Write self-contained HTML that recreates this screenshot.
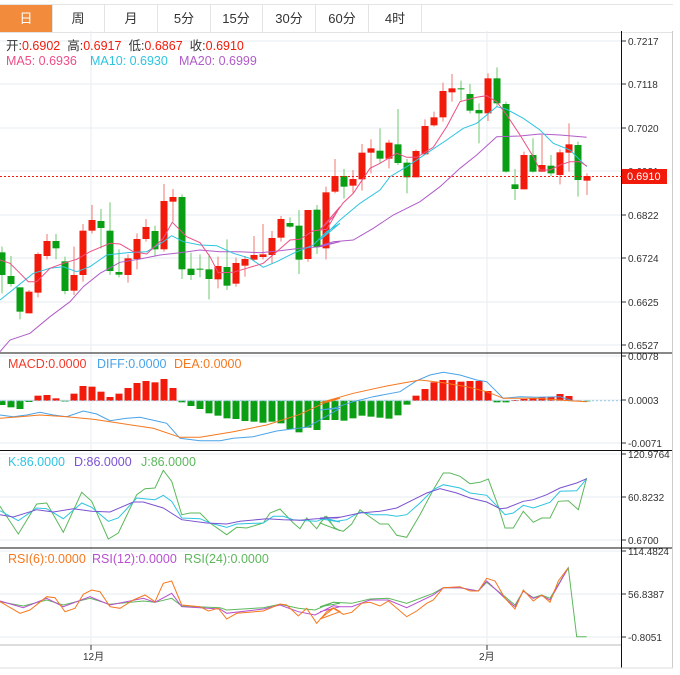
<!DOCTYPE html>
<html><head><meta charset="utf-8">
<style>
body{margin:0;background:#fff;width:680px;height:675px;overflow:hidden;font-family:"Liberation Sans","Noto Sans CJK SC",sans-serif;}
.tabs{position:absolute;left:0;top:4px;height:27px;width:673px;border-top:1px solid #e4e4e4;border-bottom:1px solid #e4e4e4;}
.tab{position:absolute;top:0;height:27px;line-height:27px;text-align:center;font-size:13px;color:#333;border-right:1px solid #e4e4e4;}
svg{position:absolute;left:0;top:0;}
</style></head><body>
<div class="tabs">
<div class="tab" style="left:0;width:52px;background:#f28c3c;color:#fff;">日</div>
<div class="tab" style="left:52px;width:52px;">周</div>
<div class="tab" style="left:105px;width:52px;">月</div>
<div class="tab" style="left:158px;width:52px;">5分</div>
<div class="tab" style="left:210px;width:52px;">15分</div>
<div class="tab" style="left:263px;width:52px;">30分</div>
<div class="tab" style="left:316px;width:52px;">60分</div>
<div class="tab" style="left:369px;width:52px;">4时</div>
</div>
<svg id="s" width="680" height="675" xmlns="http://www.w3.org/2000/svg" font-family="Liberation Sans, Noto Sans CJK SC, sans-serif"></svg>
<script>
var s=document.getElementById('s'),h='';
function L(x1,y1,x2,y2,c,w,d){h+='<line x1="'+x1+'" y1="'+y1+'" x2="'+x2+'" y2="'+y2+'" stroke="'+c+'" stroke-width="'+(w||1)+'"'+(d?' stroke-dasharray="'+d+'"':'')+'/>';}
function T(x,y,t,c,sz,a){h+='<text x="'+x+'" y="'+y+'" fill="'+c+'" font-size="'+(sz||10)+'"'+(a?' text-anchor="'+a+'"':'')+'>'+t+'</text>';}
function P(l,r,y0,c){var p=[];for(var i=0;i<l.length;i+=2)p.push((l[i]/3).toFixed(1)+','+(y0+l[i+1]/3).toFixed(1));for(i=0;i<r.length;i+=2)p.push((320+r[i]/3).toFixed(1)+','+(y0+r[i+1]/3).toFixed(1));h+='<polyline points="'+p.join(' ')+'" fill="none" stroke="'+c+'" stroke-width="1"/>';}
// grids
var gy=[41,84,128,171,215,258,302,345],gl=['0.7217','0.7118','0.7020','0.6921','0.6822','0.6724','0.6625','0.6527'];
gy.forEach(function(y,i){L(0,y,622,y,'#e6edf2');L(622,y,626,y,'#333');if(i!=3)T(628,y+4,gl[i],'#333',10);});
T(628,175,'0.6921','#333',10);
L(91,31,91,645,'#e6edf2');L(487,31,487,645,'#e6edf2');
[356,400,443].forEach(function(y,i){L(0,y,622,y,'#e6edf2');L(622,y,626,y,'#333');T(628,y+4,['0.0078','0.0003','-0.0071'][i],'#333',10);});
[454,497,540].forEach(function(y,i){L(0,y,622,y,'#e6edf2');L(622,y,626,y,'#333');T(628,y+4,['120.9764','60.8232','0.6700'][i],'#333',10);});
[551,594,637].forEach(function(y,i){L(0,y,622,y,'#e6edf2');L(622,y,626,y,'#333');T(628,y+4,['114.4824','56.8387','-0.8051'][i],'#333',10);});
// candles: [color, bodyTop, bodyBot, wickTop, wickBot] zoom coords
var C=[['g',577,645,560,700],['g',648,672,588,680],['g',682,755,682,778],['r',695,760,690,760],['r',582,698,577,712],['r',543,588,522,598],['g',543,565,522,598],['g',604,693,590,703],['r',645,692,560,705],['r',512,645,492,665],['r',480,512,435,520],['g',483,504,447,565],['g',512,633,427,645],['g',636,644,568,652],['r',595,645,583,668],['r',537,597,520,628],['r',501,537,477,545],['g',513,568,497,590],['r',423,568,372,575],['r',411,425,387,485],['g',411,628,403,657],['g',626,645,578,660],['g',626,629,583,652],['g',628,657,583,718],['r',618,658,590,685],['g',621,677,538,690],['r',609,671,593,680],['r',597,617,588,650],['r',585,599,528,602],['r',583,591,492,598],['r',534,585,513,610],['r',477,533,468,545],['g',489,500,472,503],['g',497,599,450,642],['r',450,597,450,605],['g',449,561,435,582],['r',397,565,380,598],['r',348,395,297,400],
['g',348,380,327,416],['r',357,377,330,398],['r',278,358,252,392],['r',265,278,238,340],['g',272,296,205,308],['r',248,296,240,325],['g',253,309,147,315],['g',308,352,297,400],['r',273,352,268,352],['r',198,283,178,283],['r',172,196,155,200],['r',93,172,68,185],['r',85,97,42,125],['g',85,88,62,122],['g',102,152,72,160],['g',150,160,130,250],['r',55,160,40,183],['g',55,130,22,140],['g',132,335,125,338],['g',373,387,327,420],['r',285,388,275,388],['g',285,335,235,338],['r',315,335,225,335],['g',317,340,285,348],['r',277,345,268,373],['r',253,278,190,335],['g',255,360,245,410],['r',348,362,340,405]];
C.forEach(function(c,i){var x=2+9*i,y=function(v){return 60+v/3;};var col=c[0]=='r'?'#f21a0a':'#0a9e14',wc=c[0]=='r'?'#f07a70':'#6cc86c';
L(x,y(c[3]),x,y(c[4]),wc);var t=y(c[1]),b=Math.max(y(c[2]),t+1);h+='<rect x="'+(x-3.5)+'" y="'+t+'" width="7" height="'+(b-t)+'" fill="'+col+'"/>';});
// MAs
P([0,875,30,840,90,820,150,770,210,725,250,680,300,640,360,607,420,597,480,585,540,578,600,570,660,575,720,575,780,578,840,572,900,565,960,560,1020,545],[0,557,40,545,100,540,160,505,220,465,300,425,360,380,420,325,470,285,530,230,600,228,660,222,720,225,800,232],60,'#b05cc8');
P([0,720,50,680,100,640,150,625,190,620,230,635,270,620,320,585,380,578,440,575,490,545,515,527,550,545,600,555,650,557,700,580,750,595,790,622,830,605,880,580,940,555,980,515,1020,490],[0,540,60,480,120,430,180,390,210,350,260,320,320,280,380,240,430,205,470,190,530,140,560,148,610,175,660,210,700,250,750,270,800,320],60,'#2ec4e0');
P([0,600,30,610,60,640,85,665,110,665,150,625,190,610,230,598,270,575,330,550,360,552,400,575,440,582,490,535,517,487,560,530,600,548,630,590,655,638,700,637,740,625,790,610,830,575,870,540,900,538,940,512,980,508,1020,440],[0,510,40,470,70,428,100,400,150,325,180,310,230,280,260,292,290,292,340,262,380,200,420,125,470,112,500,107,530,125,560,165,600,225,640,290,660,330,690,330,720,315,750,305,780,305,800,318],60,'#ec4f86');
// last price line
L(0,176.5,622,176.5,'#f21a0a',1,'2,2');
h+='<rect x="622" y="169" width="45" height="15" fill="#f21a0a"/>';T(627,180,'0.6910','#fff',11);
// MACD bars
var M=[165,172,177,156,137,135,145,153,131,108,110,125,141,131,114,99,93,97,87,114,157,168,177,190,197,205,207,213,215,218,215,220,237,247,233,240,210,210,212,205,197,200,203,206,196,164,137,117,97,90,90,95,93,93,123,157,157,150,147,145,142,140,132,138,152,153];
M.forEach(function(v,i){var x=2+9*i,z=400.7,y=350+v/3;var up=y<z;h+='<rect x="'+(x-3.5)+'" y="'+Math.min(y,z)+'" width="7" height="'+Math.max(Math.abs(y-z),0.8)+'" fill="'+(up?'#f21a0a':'#0a9e14')+'"/>';});
L(0,400.7,622,400.7,'#9cc8e8',1,'2,2');
P([0,195,40,200,80,195,120,187,160,195,200,200,250,183,290,192,330,212,380,205,420,202,470,213,500,220,540,265,600,272,660,272,700,265,760,260,830,243,870,238,920,232,960,210,1020,175],[0,180,40,175,100,155,160,140,240,125,290,92,330,75,370,67,420,75,470,90,500,95,530,125,550,145,600,140,650,142,720,140,760,153],350,'#4aa3e8');
P([0,205,60,200,120,195,200,200,280,208,360,220,460,235,540,262,600,262,700,245,800,225,900,193,970,160,1020,145],[0,158,100,130,200,108,300,90,370,98,440,110,500,125,550,145,650,145,750,152,800,155],350,'#f5781e');
// KDJ
P([0,175,55,258,110,168,140,165,190,253,245,133,275,160,325,273,355,255,410,140,435,122,465,120,490,67,515,100,545,200,570,195,600,195,630,225,680,260,710,238,740,240,790,225,810,195,840,183,880,225,900,242,920,210,950,242,975,205,1005,240,1020,248],[0,225,20,205,45,242,70,250,95,228,120,185,150,207,180,228,205,228,230,262,260,268,300,200,340,125,370,75,390,75,420,85,450,107,480,103,505,93,535,175,555,240,580,240,610,190,640,223,665,210,690,210,715,160,745,158,775,185,800,90],448,'#5cb85c');
P([0,188,55,218,110,180,140,182,190,212,245,165,275,178,325,220,355,210,410,150,440,153,465,155,490,142,515,160,545,210,600,212,630,225,680,238,710,228,790,225,820,205,850,205,880,215,920,218,950,220,975,210,1020,222],[0,212,50,220,80,215,120,192,160,200,200,200,230,205,260,200,300,165,340,125,370,110,420,120,450,135,500,142,535,178,555,200,580,195,610,172,640,180,690,163,720,130,770,128,800,92],448,'#2ec4e0');
P([0,200,40,207,110,185,160,192,220,182,275,190,330,192,400,162,430,162,490,180,545,215,620,225,680,228,720,220,800,212,850,215,900,217,940,213,1020,208],[0,210,50,210,120,195,180,190,230,180,280,155,320,135,360,122,410,135,450,150,500,162,540,182,560,180,610,160,640,155,680,140,720,120,770,105,800,92],448,'#7b52d0');
// RSI
P([0,170,70,183,140,165,190,180,270,160,330,178,430,168,465,172,515,160,545,183,660,188,680,195,790,188,840,178,895,190,945,195,1000,172,1020,175],[0,185,40,172,95,175,150,162,205,160,260,175,340,145,370,128,420,128,475,138,500,112,555,155,585,180,610,138,640,158,665,150,690,160,745,68,770,275,800,275],545,'#5cb85c');
P([0,168,70,188,140,160,190,185,270,155,330,180,430,160,465,172,515,145,545,185,660,192,680,205,790,192,840,180,895,200,945,210,1000,182,1020,185],[0,200,60,185,95,185,150,165,205,165,260,188,340,150,370,128,420,128,475,138,500,108,555,160,585,185,610,138,640,160,665,152,690,165,745,68],545,'#b84fd0');
P([0,170,60,205,90,195,140,155,165,158,195,200,225,190,250,148,275,135,300,140,330,185,360,190,400,165,435,150,465,170,490,115,515,108,545,180,600,185,625,198,655,190,680,222,710,205,790,198,840,177,860,180,895,213,920,190,950,235,980,200,1000,188,1020,200],[0,222,40,190,70,208,95,202,125,175,150,172,180,183,205,168,260,215,290,198,320,175,340,165,370,128,420,125,450,138,475,138,500,100,525,108,555,160,585,192,610,135,640,168,665,150,690,172,715,108,745,68],545,'#f5781e');
// frames
L(0,353,673,353,'#111');L(0,450.5,673,450.5,'#111');L(0,548,673,548,'#111');
L(0,645,622,645,'#bbb');L(621.5,31,621.5,668,'#111');L(672.5,31,672.5,668,'#ccc');L(0,668,673,668,'#ddd');
L(91,645,91,650,'#333');L(487,645,487,650,'#333');
T(83,660,'12月','#333',10);T(479,660,'2月','#333',10);
// legends
h+='<text x="6" y="50" font-size="12.5"><tspan fill="#333">开:</tspan><tspan fill="#f21a0a">0.6902</tspan><tspan fill="#333" dx="7">高:</tspan><tspan fill="#f21a0a">0.6917</tspan><tspan fill="#333" dx="7">低:</tspan><tspan fill="#f21a0a">0.6867</tspan><tspan fill="#333" dx="7">收:</tspan><tspan fill="#f21a0a">0.6910</tspan></text>';
T(6,65,'MA5: 0.6936','#ec4f86',12.5);T(90,65,'MA10: 0.6930','#2ec4e0',12.5);T(179,65,'MA20: 0.6999','#b05cc8',12.5);
T(8,368,'MACD:0.0000','#f23a2a',12.5);T(97,368,'DIFF:0.0000','#4aa3e8',12.5);T(174,368,'DEA:0.0000','#f5781e',12.5);
T(8,466,'K:86.0000','#2ec4e0',12.5);T(74,466,'D:86.0000','#7b52d0',12.5);T(141,466,'J:86.0000','#5cb85c',12.5);
T(8,563,'RSI(6):0.0000','#f5781e',12.5);T(92,563,'RSI(12):0.0000','#b84fd0',12.5);T(184,563,'RSI(24):0.0000','#5cb85c',12.5);
s.innerHTML=h;
</script>
</body></html>
